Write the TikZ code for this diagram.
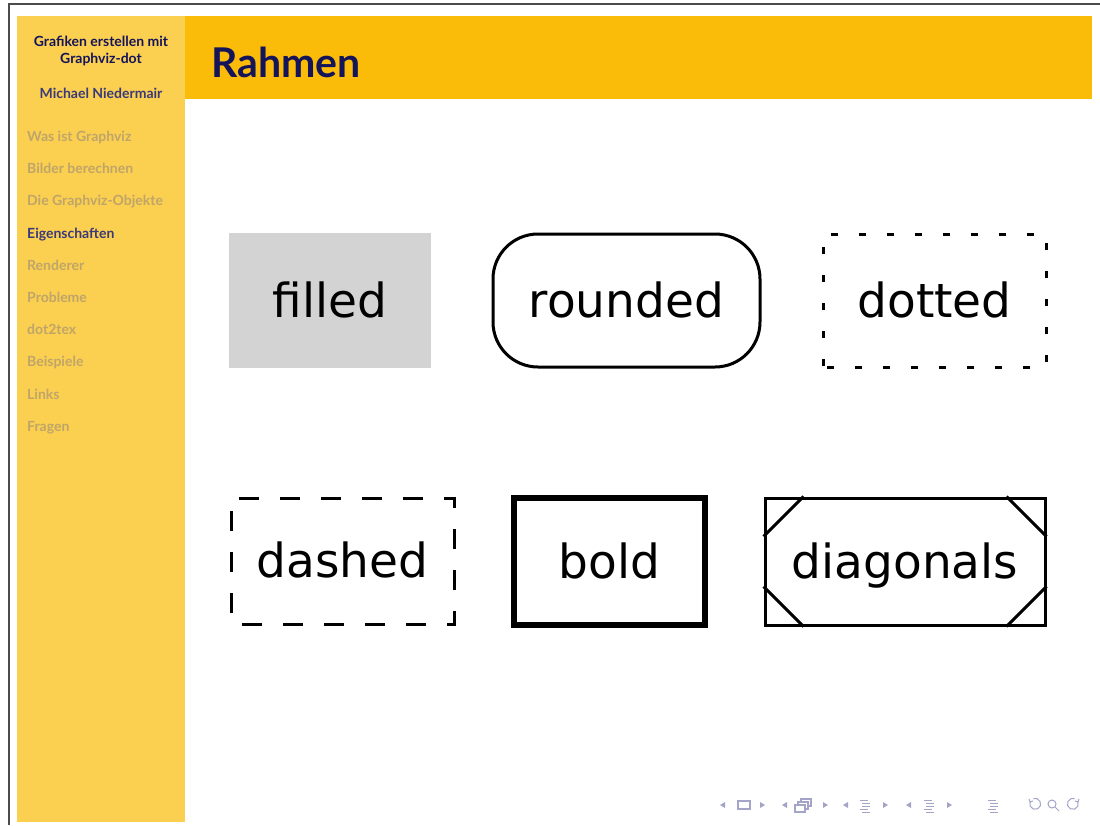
\documentclass[tikz,border=0pt]{standalone}
\usepackage{fontspec}
\setmainfont{Lato}
\newfontfamily\nodefont{DejaVu Sans}
\usetikzlibrary{calc}
\definecolor{sidebar}{HTML}{FBCF50}
\definecolor{header}{HTML}{FBBC09}
\definecolor{navy}{HTML}{14145A}
\definecolor{navyb}{HTML}{3A3A78}
\definecolor{menugray}{HTML}{BFA569}
\definecolor{navgray}{HTML}{A4A4C8}
\definecolor{fillgray}{HTML}{D3D3D3}
\tikzset{
  box/.style={draw=black, line width=3pt, minimum width=#1, inner sep=0pt, text height=33pt, text depth=0pt, font=\nodefont\fontsize{47}{56}\selectfont},
  menu/.style={anchor=base west, inner sep=0pt, font=\bfseries\fontsize{14}{16}\selectfont, text=menugray},
  navicon/.style={fill=navgray, draw=none},
  navline/.style={draw=navgray, line width=1.2pt},
}
\begin{document}
\begin{tikzpicture}[x=1pt,y=-1pt]
\useasboundingbox (0,0) rectangle (1100,825);
\fill[white] (0,0) rectangle (1100,825);
% page frame lines
\draw[line width=2pt, black!70] (9,825) -- (9,4) -- (1100,4);
% sidebar and header
\fill[sidebar] (17,16) rectangle (185,822);
\fill[header] (185,16) rectangle (1092,99);
\node[font=\bfseries\fontsize{41}{46}\selectfont, text=navy, anchor=base west, inner sep=0pt] (title) at (211,77) {Rahmen};
% sidebar texts
\node[font=\bfseries\fontsize{14}{17}\selectfont, text=navy, align=center, inner sep=0pt] (lecture) at (101,51) {Grafiken erstellen mit\\Graphviz-dot};
\node[font=\bfseries\fontsize{14}{16}\selectfont, text=navyb, inner sep=0pt] (author) at (101,93) {Michael Niedermair};
\node[menu] (m1) at (27,141) {Was ist Graphviz};
\node[menu] (m2) at (27,173) {Bilder berechnen};
\node[menu] (m3) at (27,205) {Die Graphviz-Objekte};
\node[menu, text=navyb] (m4) at (27,238) {Eigenschaften};
\node[menu] (m5) at (27,270) {Renderer};
\node[menu] (m6) at (27,302) {Probleme};
\node[menu] (m7) at (27,334) {dot2tex};
\node[menu] (m8) at (27,366) {Beispiele};
\node[menu] (m9) at (27,399) {Links};
\node[menu] (m10) at (27,431) {Fragen};
% boxes
\node[box=202pt, minimum height=135pt, draw=none, fill=fillgray] (filled) at (330,300.5) {filled};
\node[box=267pt, minimum height=133pt, rounded corners=45pt] (rounded) at (626.5,300.5) {rounded};
\node[box=223pt, minimum height=133pt, dash pattern=on 7pt off 21pt, dash phase=-4pt] (dotted) at (934.5,300.5) {dotted};
\node[box=223pt, minimum height=126pt, dash pattern=on 20pt off 21pt, dash phase=30pt] (dashed) at (342.5,561) {dashed};
\node[box=191pt, minimum height=127pt, line width=6pt] (bold) at (609.5,561.5) {bold};
\node[box=280pt, minimum height=127pt] (diag) at (905,561.5) {diagonals};
\draw[line width=3pt] ($(diag.north west)+(40,0)$) -- ($(diag.north west)+(0,40)$);
\draw[line width=3pt] ($(diag.north east)+(-40,0)$) -- ($(diag.north east)+(0,40)$);
\draw[line width=3pt] ($(diag.south west)+(40,0)$) -- ($(diag.south west)+(0,-40)$);
\draw[line width=3pt] ($(diag.south east)+(-40,0)$) -- ($(diag.south east)+(0,-40)$);
% navigation symbols
\fill[navicon] (720,805) -- (725,802) -- (725,808) -- cycle;
\draw[navline] (738,801) rectangle (750,809);
\fill[navicon] (765,805) -- (760,802) -- (760,808) -- cycle;
\fill[navicon] (782,805) -- (787,802) -- (787,808) -- cycle;
\draw[navline, fill=white] (801,799) rectangle (811,806);
\draw[navline, fill=white] (798,802) rectangle (808,809);
\draw[navline, fill=white] (795,805) rectangle (805,812);
\fill[navicon] (828,805) -- (823,802) -- (823,808) -- cycle;
\fill[navicon] (843,805) -- (848,802) -- (848,808) -- cycle;
\draw[navline, line width=0.8pt] (860,800) -- (868,800) (862,803) -- (870,803) (862,806) -- (870,806) (860,809) -- (868,809) (862,812) -- (870,812);
\fill[navicon] (888,805) -- (883,802) -- (883,808) -- cycle;
\fill[navicon] (906,805) -- (911,802) -- (911,808) -- cycle;
\draw[navline, line width=0.8pt] (924,800) -- (932,800) (926,803) -- (934,803) (926,806) -- (934,806) (924,809) -- (932,809) (926,812) -- (934,812);
\fill[navicon] (952,805) -- (947,802) -- (947,808) -- cycle;
\draw[navline, line width=0.8pt] (988,800) -- (996,800) (990,803) -- (998,803) (990,806) -- (998,806) (988,809) -- (996,809) (990,812) -- (998,812);
\draw[navline, line width=1pt] (1030,802) arc (200:-110:5.5);
\draw[navline, line width=1pt] (1029,799) -- (1030,802) -- (1033,801);
\draw[navline, line width=1pt] (1052,804) circle (4);
\draw[navline, line width=1pt] (1055,807) -- (1059,811);
\draw[navline, line width=1pt] (1078,802) arc (-20:290:5.5);
\draw[navline, line width=1pt] (1079,799) -- (1078,802) -- (1075,801);
\end{tikzpicture}
\end{document}
